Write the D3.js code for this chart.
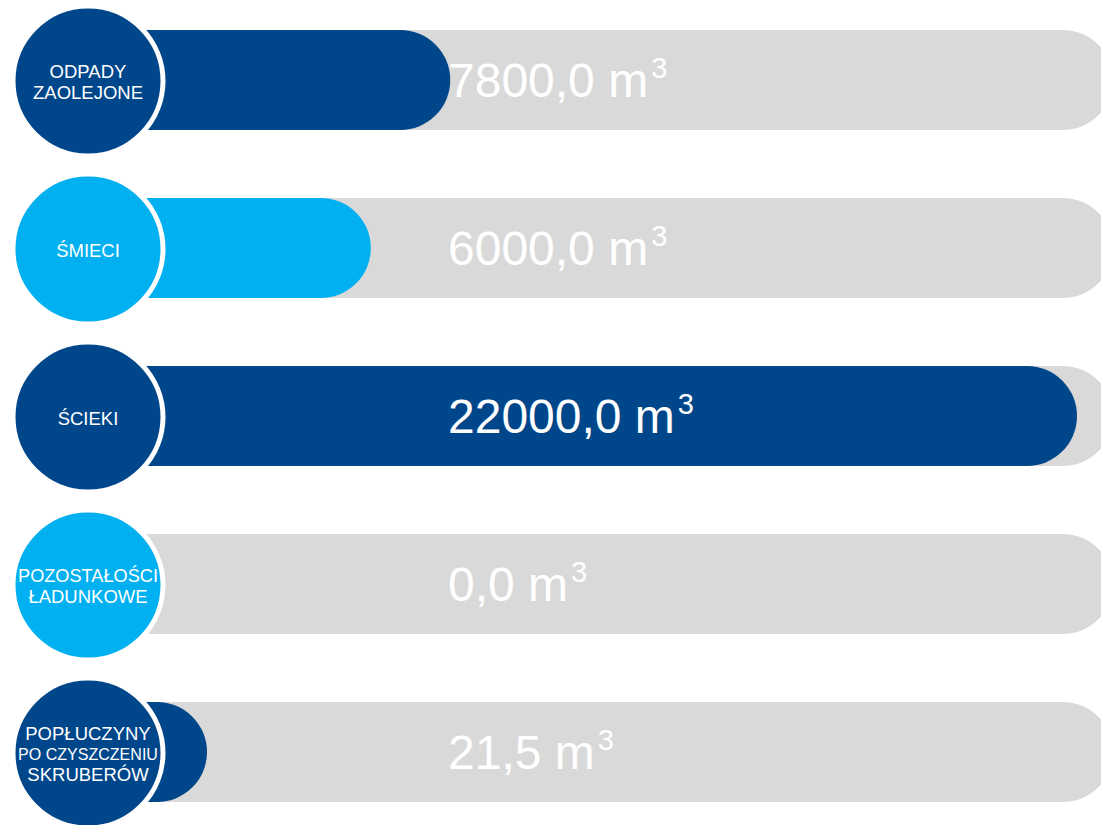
<!DOCTYPE html>
<html>
<head>
<meta charset="utf-8">
<script src="https://cdn.jsdelivr.net/npm/d3@7"></script>
<style>
  body { margin: 0; background: #fff; }
  text { font-family: "Liberation Sans", Arial, sans-serif; fill: #fff; }
</style>
</head>
<body>
<script>
// Data
var categories = [
  ["ODPADY", "ZAOLEJONE"],
  ["ŚMIECI"],
  ["ŚCIEKI"],
  ["POZOSTAŁOŚCI", "ŁADUNKOWE"],
  ["POPŁUCZYNY", "PO CZYSZCZENIU", "SKRUBERÓW"]
];
var values = [7800, 6000, 22000, 0, 21.5];
var unitLabel = "m";
var unitPower = "3";

// SVG area
var svgWidth = 1101;
var svgHeight = 825;

var svg = d3.select("body")
    .append("svg")
    .attr("width", svgWidth)
    .attr("height", svgHeight);

// Number format with comma as decimal separator
var pl = d3.formatLocale({ decimal: ",", thousands: "", grouping: [3], currency: ["", ""] });
var fmt = pl.format(".1f");

var rows = values.map(function (v, i) {
  return { i: i, value: v, lines: categories[i] };
});

// Scales
var yScale = d3.scalePoint()
    .domain(d3.range(rows.length))
    .range([80, 752]);

var xScale = d3.scaleLinear()
    .domain([0, d3.max(values)])
    .range([106, 1077]);

var colorScale = d3.scaleOrdinal()
    .domain([0, 1])
    .range(["#00468A", "#00B0F0"]);

var barHeight = 100;
var barStart = 50;
var trackEnd = 1113;
var minEnd = 207;   // smallest visible bar for a non-zero value
var circleX = 88;
var circleR = 75;

var rowGroups = svg.selectAll(".row")
    .data(rows)
    .enter()
    .append("g")
    .attr("class", "row")
    .attr("transform", d => `translate(0, ${yScale(d.i)})`);

// Grey track
rowGroups.append("rect")
    .attr("x", barStart)
    .attr("y", -barHeight / 2)
    .attr("width", trackEnd - barStart)
    .attr("height", barHeight)
    .attr("rx", barHeight / 2)
    .attr("fill", "#D9D9D9");

// Value bar
rowGroups.filter(d => d.value > 0)
    .append("rect")
    .attr("x", barStart)
    .attr("y", -barHeight / 2)
    .attr("width", d => Math.max(xScale(d.value), minEnd) - barStart)
    .attr("height", barHeight)
    .attr("rx", barHeight / 2)
    .attr("fill", d => colorScale(d.i % 2));

// Value label
var valueText = rowGroups.append("text")
    .attr("x", 448)
    .attr("y", 0)
    .attr("dy", "0.36em")
    .style("font-size", "48px");

valueText.append("tspan")
    .text(d => fmt(d.value) + " " + unitLabel);

valueText.append("tspan")
    .attr("dx", 3)
    .attr("dy", -19)
    .style("font-size", "29px")
    .text(unitPower);

// Circle
rowGroups.append("circle")
    .attr("cx", circleX)
    .attr("cy", 1)
    .attr("r", circleR)
    .attr("fill", d => colorScale(d.i % 2))
    .attr("stroke", "#fff")
    .attr("stroke-width", 5);

// Circle label
var lineGap = 20.5;
rowGroups.each(function (d) {
  var g = d3.select(this);
  var n = d.lines.length;
  d.lines.forEach(function (line, k) {
    var t = g.append("text")
        .attr("x", circleX)
        .attr("y", 2 + (k - (n - 1) / 2) * lineGap)
        .attr("dy", "0.36em")
        .attr("text-anchor", "middle")
        .style("font-size", "18.5px")
        .text(line);
    var w = t.node().getComputedTextLength();
    if (w > 140) t.style("font-size", (18.5 * 140 / w) + "px");
  });
});
</script>
</body>
</html>
